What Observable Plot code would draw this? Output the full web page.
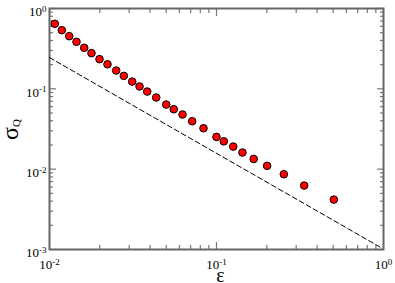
<!DOCTYPE html>
<html>
<head>
<meta charset="utf-8">
<script src="https://cdn.jsdelivr.net/npm/d3@7"></script>
<script src="https://cdn.jsdelivr.net/npm/@observablehq/plot@0.6"></script>
<style>
  html, body { margin: 0; padding: 0; background: white; }
</style>
</head>
<body>
<div id="chart"></div>
<script>
// Data
const epsilon = [0.01076, 0.01185, 0.01312, 0.01451, 0.01614, 0.01784, 0.01993, 0.02225, 0.02508, 0.02786,
  0.03127, 0.0346, 0.03846, 0.04355, 0.05, 0.0555, 0.0626, 0.0715, 0.0836, 0.1,
  0.1106, 0.126, 0.143, 0.167, 0.201, 0.253, 0.335, 0.504];
const sigmaQ = [0.645, 0.537, 0.452, 0.385, 0.324, 0.278, 0.234, 0.202, 0.169, 0.145,
  0.123, 0.107, 0.0925, 0.078, 0.0637, 0.0557, 0.0479, 0.0395, 0.0323, 0.0252,
  0.0222, 0.0191, 0.0161, 0.0134, 0.011, 0.00865, 0.00625, 0.00418];
const refLineX = [0.01, 0.97];
const refLineY = [0.245, 0.00105];

const xMajor = [0.01, 0.1, 1];
const xMajorLabels = ["10^-2", "10^-1", "10^0"];
const yMajor = [0.001, 0.01, 0.1, 1];
const yMajorLabels = ["10^-3", "10^-2", "10^-1", "10^0"];
const mult = [2, 3, 4, 5, 6, 7, 8, 9];
const xMinor = [0.01, 0.1].flatMap(d => mult.map(m => d * m));
const yMinor = [0.001, 0.01, 0.1].flatMap(d => mult.map(m => d * m));

const points = epsilon.map((x, i) => ({x, y: sigmaQ[i]}));
const refLine = refLineX.map((x, i) => ({x, y: refLineY[i]}));
const xLab = new Map(xMajor.map((d, i) => [d, xMajorLabels[i]]));
const yLab = new Map(yMajor.map((d, i) => [d, yMajorLabels[i]]));

const tickColor = "#777";
const frameColor = "#666";
const serif = "'Liberation Serif', 'DejaVu Serif', serif";

const svg = Plot.plot({
  width: 395,
  height: 283,
  marginLeft: 49,
  marginRight: 12,
  marginTop: 8,
  marginBottom: 34,
  style: {fontFamily: serif, background: "white", color: "black"},
  x: {type: "log", domain: [0.01, 1]},
  y: {type: "log", domain: [0.001, 1]},
  marks: [
    // inward ticks, all four sides
    Plot.axisX({anchor: "bottom", ticks: xMajor, tickSize: -7, tickFormat: () => "", label: null, stroke: tickColor, strokeWidth: 1.2}),
    Plot.axisX({anchor: "bottom", ticks: xMinor, tickSize: -4, tickFormat: () => "", label: null, stroke: tickColor, strokeWidth: 1.2}),
    Plot.axisX({anchor: "top", ticks: xMajor, tickSize: -7, tickFormat: () => "", label: null, stroke: tickColor, strokeWidth: 1.2}),
    Plot.axisX({anchor: "top", ticks: xMinor, tickSize: -4, tickFormat: () => "", label: null, stroke: tickColor, strokeWidth: 1.2}),
    Plot.axisY({anchor: "left", ticks: yMajor, tickSize: -7, tickFormat: () => "", label: null, stroke: tickColor, strokeWidth: 1.2}),
    Plot.axisY({anchor: "left", ticks: yMinor, tickSize: -4, tickFormat: () => "", label: null, stroke: tickColor, strokeWidth: 1.2}),
    Plot.axisY({anchor: "right", ticks: yMajor, tickSize: -7, tickFormat: () => "", label: null, stroke: tickColor, strokeWidth: 1.2}),
    Plot.axisY({anchor: "right", ticks: yMinor, tickSize: -4, tickFormat: () => "", label: null, stroke: tickColor, strokeWidth: 1.2}),
    // tick labels
    Plot.axisX({anchor: "bottom", ticks: xMajor, tickSize: 0, tickPadding: 10, tickFormat: d => xLab.get(d), label: null, fontSize: 13}),
    Plot.axisY({anchor: "left", ticks: yMajor, tickSize: 0, tickPadding: 3, tickFormat: d => yLab.get(d), label: null, fontSize: 13, dy: 3.5}),
    Plot.frame({stroke: frameColor, strokeWidth: 2}),
    Plot.line(refLine, {x: "x", y: "y", stroke: "black", strokeWidth: 1, strokeDasharray: "5,3"}),
    Plot.dot(points, {x: "x", y: "y", r: 3.8, fill: "#ff0000", stroke: "black", strokeWidth: 1})
  ]
});

// turn "10^k" into 10 with superscript
d3.select(svg).selectAll('g[aria-label="x-axis tick label"] text, g[aria-label="y-axis tick label"] text').each(function() {
  const t = this.textContent;
  const m = t.match(/^(\d+)\^(.+)$/);
  if (!m) return;
  const el = d3.select(this);
  el.text(null);
  el.append("tspan").text(m[1]);
  el.append("tspan").attr("dy", "-0.45em").attr("font-size", "9").text(m[2]);
});

const s = d3.select(svg);
s.append("text")
  .attr("x", 220.5).attr("y", 281.5)
  .attr("text-anchor", "middle")
  .attr("font-family", serif)
  .attr("font-size", 20)
  .text("ε");
const yl = s.append("text")
  .attr("transform", "translate(18,140) rotate(-90)")
  .attr("text-anchor", "start")
  .attr("font-family", serif)
  .attr("font-size", 24);
yl.append("tspan").text("σ");
yl.append("tspan").attr("dy", "2").attr("font-size", 11).text("Q");

document.getElementById("chart").appendChild(svg);
</script>
</body>
</html>
